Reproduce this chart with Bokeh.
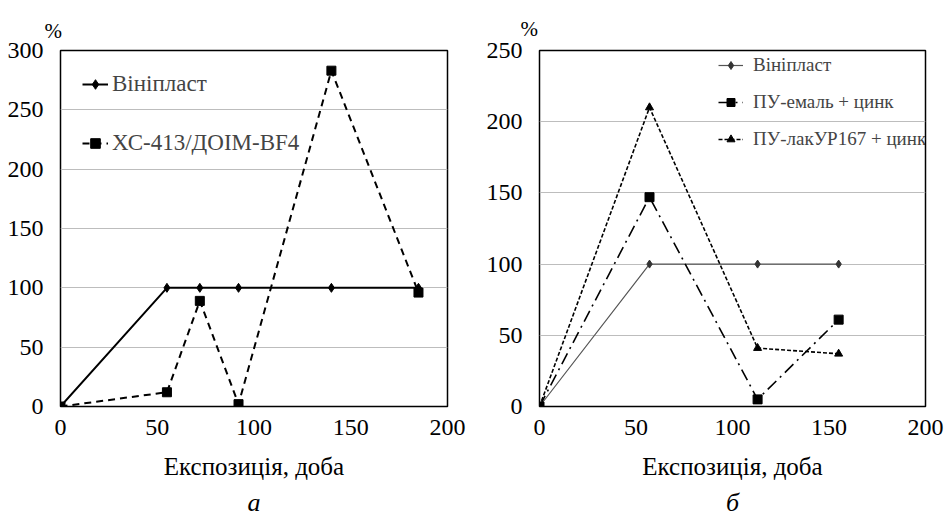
from bokeh.plotting import figure
from bokeh.layouts import row
from bokeh.models import Legend, LegendItem, Range1d, FixedTicker, Title
from bokeh.embed import file_html
from bokeh.resources import INLINE

# ---- data, panel a ----
a_days = [0, 55, 72, 92, 140, 185]
a_viniplast = [0, 100, 100, 100, 100, 100]
a_xc413 = [0, 12, 89, 2, 283, 96]
a_names = ["Вініпласт", "ХС-413/ДОІМ-BF4"]

# ---- data, panel b ----
b_days = [0, 57, 113, 155]
b_viniplast = [0, 100, 100, 100]
b_email = [0, 147, 5, 61]
b_lak = [0, 210, 41, 37]
b_names = ["Вініпласт", "ПУ-емаль + цинк", "ПУ-лакУР167 + цинк"]

x_ticks = [0, 50, 100, 150, 200]
a_y_ticks = [0, 50, 100, 150, 200, 250, 300]
b_y_ticks = [0, 50, 100, 150, 200, 250]
x_title = "Експозиція, доба"

FONT = "Times New Roman"


def base(width, ymax, yticks, bl, br, bt, caption, pct_offset, pct_standoff):
    p = figure(width=width, height=521, output_backend="svg", toolbar_location=None,
               x_range=Range1d(0, 200), y_range=Range1d(0, ymax),
               min_border_left=bl, min_border_right=br, min_border_top=bt,
               min_border_bottom=115)
    p.outline_line_color = "black"
    p.outline_line_width = 1.5
    p.background_fill_color = "white"
    p.border_fill_color = "white"
    p.xgrid.visible = False
    p.ygrid.grid_line_color = "#bdbdbd"
    p.ygrid.grid_line_width = 1
    p.xaxis.ticker = FixedTicker(ticks=x_ticks)
    p.yaxis.ticker = FixedTicker(ticks=yticks)
    for ax in (p.xaxis[0], p.yaxis[0]):
        ax.axis_line_color = None
        ax.major_tick_line_color = None
        ax.minor_tick_line_color = None
        ax.major_label_text_font = FONT
        ax.major_label_text_font_size = "24px"
        ax.major_label_text_color = "black"
    p.yaxis.major_label_standoff = 11
    p.xaxis.major_label_standoff = 7
    p.xaxis.axis_label = x_title
    p.xaxis.axis_label_text_font = FONT
    p.xaxis.axis_label_text_font_size = "25px"
    p.xaxis.axis_label_text_font_style = "normal"
    p.xaxis.axis_label_text_color = "black"
    p.xaxis.axis_label_standoff = 15
    # "%" unit mark above the y axis
    p.title.text = "%"
    p.title.align = "left"
    p.title.offset = pct_offset
    p.title.standoff = pct_standoff
    p.title.text_font = FONT
    p.title.text_font_size = "21px"
    p.title.text_font_style = "normal"
    p.title.text_color = "black"
    # panel caption below
    p.add_layout(Title(text=caption, align="center", text_font=FONT,
                       text_font_size="26px", text_font_style="italic",
                       text_line_height=0.5, text_color="black", standoff=6), "below")
    return p


# ---------- panel a ----------
p1 = base(473, 300, a_y_ticks, 60, 26, 50, "а", -16, 16)
l1 = p1.line(a_days, a_viniplast, line_color="black", line_width=2)
m1 = p1.scatter(a_days, a_viniplast, marker="diamond", size=9, color="black")
l2 = p1.line(a_days, a_xc413, line_color="black", line_width=2, line_dash="7 5")
m2 = p1.scatter(a_days, a_xc413, marker="square", size=9, color="black")
leg1 = Legend(items=[LegendItem(label=a_names[0], renderers=[l1, m1]),
                     LegendItem(label=a_names[1], renderers=[l2, m2])],
              location=(22, 250), margin=0, padding=10, spacing=33,
              label_text_font=FONT, label_text_font_size="23px",
              glyph_width=26, glyph_height=24, label_height=24,
              label_standoff=4, background_fill_alpha=0, border_line_color=None)
p1.add_layout(leg1)

# ---------- panel b ----------
p2 = base(473, 250, b_y_ticks, 66, 21, 48, "б", -19, 19)
r1 = p2.line(b_days, b_viniplast, line_color="#555555", line_width=1.2)
s1 = p2.scatter(b_days, b_viniplast, marker="diamond", size=8, color="#333333")
r2 = p2.line(b_days, b_email, line_color="black", line_width=1.6, line_dash="12 5 2 5")
s2 = p2.scatter(b_days, b_email, marker="square", size=9, color="black")
r3 = p2.line(b_days, b_lak, line_color="black", line_width=1.6, line_dash="4 2")
s3 = p2.scatter(b_days, b_lak, marker="triangle", size=8, color="black")
leg2 = Legend(items=[LegendItem(label=b_names[0], renderers=[r1, s1]),
                     LegendItem(label=b_names[1], renderers=[r2, s2]),
                     LegendItem(label=b_names[2], renderers=[r3, s3])],
              location=(179, 256), margin=0, padding=5, spacing=15,
              label_text_font=FONT, label_text_font_size="19px",
              glyph_width=25, glyph_height=20, label_height=20,
              label_standoff=10, background_fill_alpha=0, border_line_color=None)
p2.add_layout(leg2)

layout = row(p1, p2)
open("out.html", "w").write(file_html(layout, INLINE))
